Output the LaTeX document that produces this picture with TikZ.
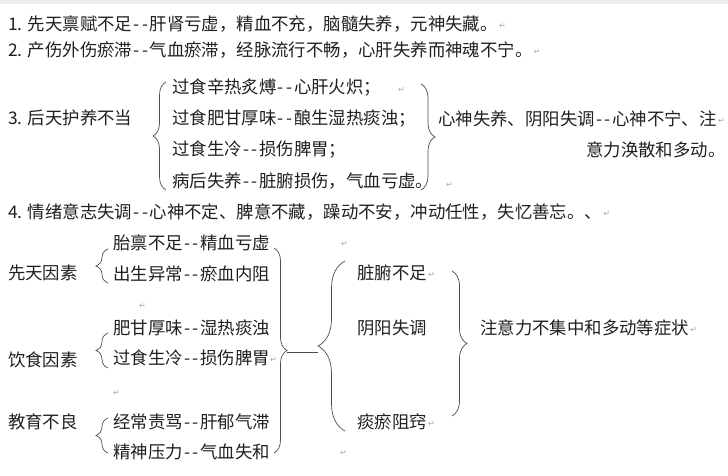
\documentclass[tikz,border=0pt]{standalone}
\usepackage{fontspec}
\newfontfamily\cjk{Noto Sans CJK SC}
\newfontfamily\symf{DejaVu Sans}
\usetikzlibrary{decorations.pathreplacing,positioning}
\newcommand\dsh{\makebox[0.5em]{-}\makebox[0.5em]{-}}
\tikzset{
  txt/.style={font=\cjk\fontsize{17.4}{17.4}\selectfont, text=black!88, inner sep=0pt, anchor=west},
  ret/.style={font=\symf\fontsize{8}{8}\selectfont, text=black!35, inner sep=0pt, anchor=west},
  brc/.style={draw=black!70, line width=0.7pt, decorate, decoration={brace, amplitude=#1}},
  link/.style={draw=black!70, line width=0.7pt}
}
\begin{document}
\begin{tikzpicture}[x=1pt,y=-1pt]
\useasboundingbox (0,0) rectangle (728,476);
\fill[black!7] (0,0) rectangle (728,4);

% items 1, 2
\node[txt] (l1) at (8,24) {1. 先天禀赋不足\dsh 肝肾亏虚，精血不充，脑髓失养，元神失藏。};
\node[ret, right=1pt of l1, yshift=-2pt] (r1) {↵};
\node[txt] (l2) at (8,50) {2. 产伤外伤瘀滞\dsh 气血瘀滞，经脉流行不畅，心肝失养而神魂不宁。};
\node[ret, right=1pt of l2, yshift=-2pt] (r2) {↵};

% item 3
\node[txt] (s3) at (8,118) {3. 后天护养不当};
\node[txt] (a1) at (172,88) {过食辛热炙煿\dsh 心肝火炽；};
\node[ret] (ra1) at (398,90) {↵};
\node[txt] (a2) at (172,119) {过食肥甘厚味\dsh 酿生湿热痰浊；};
\node[txt] (a3) at (172,150) {过食生冷\dsh 损伤脾胃；};
\node[txt] (a4) at (172,181) {病后失养\dsh 脏腑损伤，气血亏虚。};
\node[ret] (ra4) at (446,185) {↵};
\coordinate (b3lt) at (166,82);
\coordinate (b3lb) at (166,190);
\draw[brc=13] (b3lb) -- (b3lt);
\coordinate (b3rt) at (421,84);
\coordinate (b3rb) at (421,190);
\draw[brc=14] (b3rt) -- (b3rb);
\node[txt] (c1) at (438,119) {心神失养、阴阳失调\dsh 心神不宁、注};
\node[ret, right=1pt of c1, yshift=-2pt] (rc1) {↵};
\node[txt] (c2) at (586,150) {意力涣散和多动。};

% item 4
\node[txt] (l4) at (8,212) {4. 情绪意志失调\dsh 心神不定、脾意不藏，躁动不安，冲动任性，失忆善忘。、};
\node[ret, right=1pt of l4, yshift=-2pt] (r4) {↵};

% lower chart
\node[txt] (x1) at (8,273) {先天因素};
\node[txt] (p1) at (113,243) {胎禀不足\dsh 精血亏虚};
\node[txt] (p2) at (113,274) {出生异常\dsh 瘀血内阻};
\coordinate (s1t) at (108,249);
\coordinate (s1b) at (108,283);
\draw[brc=12] (s1b) -- (s1t);
\node[ret] (rr1) at (139,306) {↵};

\node[txt] (x2) at (8,360) {饮食因素};
\node[txt] (p3) at (113,328) {肥甘厚味\dsh 湿热痰浊};
\node[txt] (p4) at (113,358) {过食生冷\dsh 损伤脾胃};
\node[ret] (rp4) at (270,360) {↵};
\coordinate (s2t) at (108,333);
\coordinate (s2b) at (108,368);
\draw[brc=12] (s2b) -- (s2t);
\node[ret] (rr2) at (113,393) {↵};

\node[txt] (x3) at (8,422) {教育不良};
\node[txt] (p5) at (113,422) {经常责骂\dsh 肝郁气滞};
\node[txt] (p6) at (113,452) {精神压力\dsh 气血失和};
\coordinate (s3t) at (108,418);
\coordinate (s3b) at (108,453);
\draw[brc=12] (s3b) -- (s3t);

\coordinate (bigt) at (274,248);
\coordinate (bigb) at (274,453);
\draw[brc=13] (bigt) -- (bigb);

\coordinate (tipL) at (287,352);
\coordinate (tipR) at (318,352);
\draw[link] (tipL) -- (tipR);

\coordinate (mlt) at (345,261);
\coordinate (mlb) at (345,431);
\draw[brc=27] (mlb) -- (mlt);
\node[ret] (rm1) at (341,244) {↵};
\node[ret] (rm2) at (340,453) {↵};

\node[txt] (q1) at (357,273) {脏腑不足};
\node[ret, right=1pt of q1, yshift=-2pt] (rq1) {↵};
\node[txt] (q2) at (357,328) {阴阳失调};
\node[txt] (q3) at (357,422) {痰瘀阻窍};
\node[ret, right=1pt of q3, yshift=-2pt] (rq3) {↵};

\coordinate (mrt) at (452,271);
\coordinate (mrb) at (452,416);
\draw[brc=15] (mrt) -- (mrb);

\node[txt] (res) at (480,328) {注意力不集中和多动等症状};
\node[ret, right=1pt of res, yshift=-2pt] (rres) {↵};
\end{tikzpicture}
\end{document}
